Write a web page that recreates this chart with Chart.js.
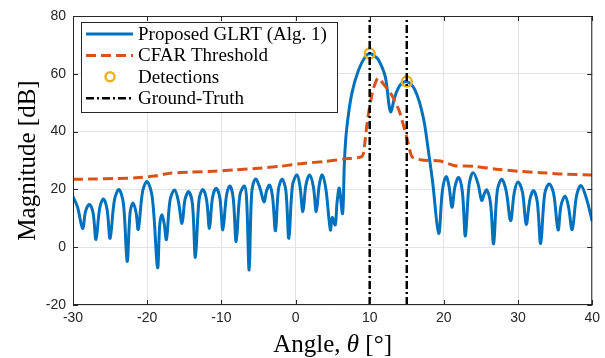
<!DOCTYPE html>
<html>
<head>
<meta charset="utf-8">
<script src="https://cdn.jsdelivr.net/npm/chart.js@4.4.1/dist/chart.umd.min.js"></script>
<style>
  html, body { margin: 0; padding: 0; background: #fff; }
  #wrap { width: 605px; height: 358px; position: relative; }
</style>
</head>
<body>
<div id="wrap"><canvas id="beamChart"></canvas></div>
<script>
// GLRT spectrum (dB) over angle (deg)
const angles = [
  -30.0, -29.4, -28.7, -28.3, -27.8, -27.3, -26.9, -26.4, -25.9, -25.4,
  -25.0, -24.4, -23.8, -23.2, -22.7, -22.3, -21.9, -21.5, -21.2, -20.6,
  -20.0, -19.3, -18.6, -18.3, -18.0, -17.7, -17.4, -16.9, -16.3, -15.8,
  -15.3, -14.9, -14.4, -13.9, -13.5, -13.0, -12.5, -12.0, -11.6, -11.2,
  -10.7, -10.2, -9.8, -9.3, -8.85, -8.4, -8.0, -7.5, -6.9, -6.6,
  -6.25, -5.9, -5.4, -4.8, -4.25, -3.9, -3.5, -3.1, -2.7, -2.3,
  -1.8, -1.3, -0.9, -0.4, 0.2, 0.6, 1.0, 1.4, 1.9, 2.4,
  2.8, 3.2, 3.6, 4.1, 4.7, 4.95, 5.35, 5.6, 5.9, 6.34,
  6.6, 6.9, 7.6, 8.5, 9.4, 10.0, 10.6, 11.2, 12.1, 12.8,
  13.4, 14.1, 15.0, 16.1, 17.2, 17.9, 18.5, 19.3, 19.8, 20.3,
  20.7, 21.1, 21.5, 22.0, 22.5, 22.9, 23.4, 23.95, 24.6, 25.1,
  25.45, 25.8, 26.3, 26.7, 27.2, 27.8, 28.4, 29.0, 29.5, 30.0,
  30.6, 31.1, 31.6, 32.1, 32.6, 33.05, 33.6, 34.2, 34.8, 35.4,
  35.8, 36.35, 36.8, 37.3, 37.9, 38.5, 39.2, 40.0
];
const glrtDb = [
  17.5, 14.0, 6.5, 12.5, 14.8, 12.0, 2.7, 13.5, 16.7, 13.0,
  3.1, 16.5, 19.9, 15.0, -4.9, 12.0, 15.3, 12.0, 6.2, 19.5,
  22.7, 17.0, -7.0, 8.0, 11.2, 8.0, 2.7, 16.5, 19.8, 16.0,
  8.2, 16.5, 19.2, 15.0, -3.5, 16.5, 20.0, 16.5, 6.5, 17.0,
  20.4, 17.0, 6.0, 18.0, 21.2, 17.0, 1.9, 18.0, 21.2, 17.0,
  -7.9, 19.0, 23.6, 20.5, 15.7, 19.5, 21.5, 17.5, 5.7, 20.0,
  23.5, 19.5, 3.1, 21.5, 25.0, 21.0, 12.3, 21.5, 25.0, 21.0,
  12.3, 21.5, 25.0, 20.0, 6.0, 10.3, 7.7, 15.5, 20.4, 11.7,
  30.0, 41.0, 53.3, 61.3, 65.9, 67.0, 66.3, 64.8, 59.0, 46.9,
  52.1, 56.1, 57.3, 54.4, 45.2, 33.6, 22.2, 4.8, 19.5, 24.4,
  21.0, 13.8, 21.0, 24.1, 19.0, 3.9, 21.5, 25.8, 22.0, 16.2,
  18.5, 19.8, 15.0, 1.2, 19.5, 23.5, 19.5, 9.2, 19.0, 22.6,
  19.0, 7.9, 16.5, 19.6, 15.5, 1.3, 18.5, 21.9, 18.5, 6.0,
  14.5, 17.6, 14.0, 6.1, 18.0, 21.3, 17.0, 9.0
];

// CFAR threshold (dB)
const cfarAngles = [-30, -27, -24, -21.5, -19, -17, -14, -11, -8, -5, -2, 1, 4, 6.5, 8.9, 9.2,
  9.7, 10.4, 11.1, 12.0, 13.0, 14.0, 15.0, 15.7, 17, 19.5, 21.5, 24, 27, 30, 33, 36, 40];
const cfarDb = [23.5, 23.6, 23.8, 24.0, 24.6, 25.6, 26.0, 26.3, 26.8, 27.3, 28.0, 29.0, 29.7, 30.5, 31.3, 33.0,
  44.0, 54.0, 58.5, 56.0, 52.5, 47.0, 38.0, 31.3, 30.2, 29.8, 28.2, 28.0, 27.0, 26.3, 25.8, 25.3, 25.0];

// detected peaks and true target directions
const detAngles = [10.0, 15.0];
const detDb = [67.0, 57.3];
const truthAngles = [10, 15];

const xTicks = [-30, -20, -10, 0, 10, 20, 30, 40];
const yTicks = [-20, 0, 20, 40, 60, 80];

const BLUE = '#0072BD', ORANGE = '#D95319', GOLD = '#EDB120', AXIS = '#262626';
const TRUTH_DASH = [8, 3, 2, 3];

const zip = (xs, ys) => xs.map((x, i) => ({ x: x, y: ys[i] }));

const truthData = [];
truthAngles.forEach((a, i) => {
  if (i > 0) truthData.push({ x: (a + truthAngles[i - 1]) / 2, y: null });
  truthData.push({ x: a, y: yTicks[0] }, { x: a, y: yTicks[yTicks.length - 1] });
});

const legendItems = [
  { label: 'Proposed GLRT (Alg. 1)', kind: 'line', color: BLUE, dash: [] },
  { label: 'CFAR Threshold', kind: 'line', color: ORANGE, dash: [10, 5] },
  { label: 'Detections', kind: 'marker', color: GOLD },
  { label: 'Ground-Truth', kind: 'line', color: '#000', dash: TRUTH_DASH, width: 2.5 }
];

// box, inward ticks, legend and axis titles in MATLAB style
const frame = {
  id: 'frame',
  afterDraw(chart) {
    const { ctx, chartArea: a, scales: { x, y } } = chart;
    ctx.save();
    ctx.strokeStyle = AXIS;
    ctx.lineWidth = 1;
    ctx.setLineDash([]);
    ctx.strokeRect(a.left + 0.5, a.top + 0.5, a.right - a.left - 1, a.bottom - a.top - 1);
    ctx.beginPath();
    xTicks.forEach(v => {
      const px = Math.round(x.getPixelForValue(v)) + 0.5;
      ctx.moveTo(px, a.bottom); ctx.lineTo(px, a.bottom - 5);
      ctx.moveTo(px, a.top); ctx.lineTo(px, a.top + 5);
    });
    yTicks.forEach(v => {
      const py = Math.round(y.getPixelForValue(v)) + 0.5;
      ctx.moveTo(a.left, py); ctx.lineTo(a.left + 5, py);
      ctx.moveTo(a.right, py); ctx.lineTo(a.right - 5, py);
    });
    ctx.stroke();

    // legend
    const bx = 81, by = 22, bw = 256, bh = 90;
    ctx.fillStyle = '#fff';
    ctx.fillRect(bx, by, bw, bh);
    ctx.strokeStyle = AXIS;
    ctx.strokeRect(bx + 0.5, by + 0.5, bw, bh);
    ctx.font = '19px "Liberation Serif", serif';
    ctx.textBaseline = 'middle';
    legendItems.forEach((it, i) => {
      const cy = 34 + i * 21.4;
      if (it.kind === 'line') {
        ctx.strokeStyle = it.color;
        ctx.lineWidth = it.width || 3;
        ctx.setLineDash(it.dash);
        ctx.beginPath();
        ctx.moveTo(86, cy); ctx.lineTo(133, cy);
        ctx.stroke();
      } else {
        ctx.strokeStyle = it.color;
        ctx.lineWidth = 2.5;
        ctx.setLineDash([]);
        ctx.beginPath();
        ctx.arc(110, cy, 4.5, 0, Math.PI * 2);
        ctx.stroke();
      }
      ctx.fillStyle = '#000';
      ctx.fillText(it.label, 138, cy + 1);
    });

    // axis titles
    ctx.fillStyle = '#000';
    ctx.textBaseline = 'alphabetic';
    const reg = '25px "Liberation Serif", serif';
    const ita = 'italic 25px "Liberation Serif", serif';
    const parts = [['Angle, ', reg], ['θ', ita], [' [°]', reg]];
    let total = 0;
    parts.forEach(p => { ctx.font = p[1]; total += ctx.measureText(p[0]).width; });
    let tx = (a.left + a.right) / 2 - total / 2;
    parts.forEach(p => { ctx.font = p[1]; ctx.fillText(p[0], tx, 352); tx += ctx.measureText(p[0]).width; });

    ctx.translate(35, (a.top + a.bottom) / 2);
    ctx.rotate(-Math.PI / 2);
    ctx.font = reg;
    ctx.textAlign = 'center';
    ctx.fillText('Magnitude [dB]', 0, 0);
    ctx.restore();
  }
};

new Chart(document.getElementById('beamChart'), {
  type: 'line',
  data: {
    datasets: [
      {
        data: truthData, borderColor: '#000', borderWidth: 2.5, borderDash: TRUTH_DASH,
        pointRadius: 0, spanGaps: false, tension: 0, order: 0
      },
      {
        data: zip(detAngles, detDb), showLine: false, pointStyle: 'circle', pointRadius: 5,
        pointBorderColor: GOLD, pointBackgroundColor: 'rgba(0,0,0,0)', pointBorderWidth: 2.5, order: 1
      },
      {
        data: zip(cfarAngles, cfarDb), borderColor: ORANGE, borderWidth: 3, borderDash: [10, 5],
        pointRadius: 0, tension: 0.2, order: 2
      },
      {
        data: zip(angles, glrtDb), borderColor: BLUE, borderWidth: 3,
        pointRadius: 0, tension: 0.35, order: 3
      }
    ]
  },
  options: {
    responsive: true,
    maintainAspectRatio: false,
    animation: false,
    devicePixelRatio: 1,
    layout: { padding: { left: 0, right: 10, top: 16, bottom: 0 } },
    plugins: { legend: { display: false }, tooltip: { enabled: false } },
    scales: {
      x: {
        type: 'linear', min: -30, max: 40,
        afterFit: s => { s.height = 53; },
        afterBuildTicks: s => { s.ticks = xTicks.map(v => ({ value: v })); },
        ticks: { color: AXIS, font: { family: '"Liberation Sans", Arial, sans-serif', size: 14 }, padding: 5, maxRotation: 0 },
        grid: { color: '#e3e3e3', drawTicks: false },
        border: { display: false }
      },
      y: {
        min: -20, max: 80,
        afterFit: s => { s.width = 73; },
        afterBuildTicks: s => { s.ticks = yTicks.map(v => ({ value: v })); },
        ticks: { color: AXIS, font: { family: '"Liberation Sans", Arial, sans-serif', size: 14 }, padding: 7 },
        grid: { color: '#e3e3e3', drawTicks: false },
        border: { display: false }
      }
    }
  },
  plugins: [frame]
});
</script>
</body>
</html>
